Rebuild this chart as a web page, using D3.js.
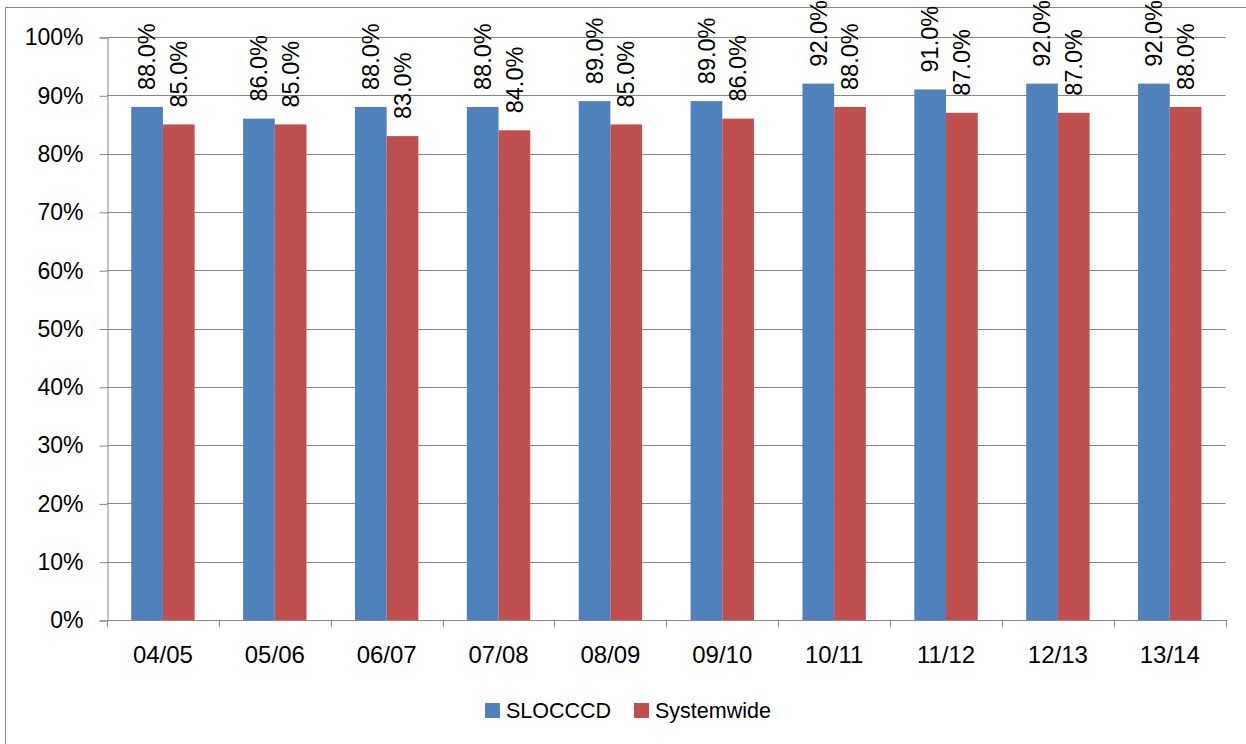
<!DOCTYPE html>
<html>
<head>
<meta charset="utf-8">
<script src="https://cdn.jsdelivr.net/npm/d3@7/dist/d3.min.js"></script>
<style>
  html, body { margin: 0; padding: 0; background: #fff; }
  svg { display: block; font-family: "Liberation Sans", Arial, sans-serif; }
</style>
</head>
<body>
<svg id="chart" width="1246" height="744"></svg>
<script>
const categories = ["04/05","05/06","06/07","07/08","08/09","09/10","10/11","11/12","12/13","13/14"];
const seriesNames = ["SLOCCCD","Systemwide"];
const slocccd = [88,86,88,88,89,89,92,91,92,92];
const systemwide = [85,85,83,84,85,86,88,87,87,88];
const yTicks = [0,10,20,30,40,50,60,70,80,90,100];
const colors = ["#4F81BD","#C0504D"];

const svg = d3.select("#chart");
const plotLeft = 107, plotRight = 1225.7, plotTop = 37, plotBottom = 620;

// outer border
svg.append("rect").attr("x",5.5).attr("y",7.5).attr("width",1260).attr("height",760)
  .attr("fill","none").attr("stroke","#868686").attr("stroke-width",1);

const x = d3.scaleBand().domain(categories).range([plotLeft, plotRight]).padding(0);
const y = d3.scaleLinear().domain([0,100]).range([plotBottom, plotTop]);
const barW = 31.7;
const sub = d3.scaleBand().domain(seriesNames).range([0, barW*2]);
const offset = (x.bandwidth() - barW*2)/2;

// gridlines
svg.append("g").selectAll("line").data(yTicks).join("line")
  .attr("x1", plotLeft).attr("x2", plotRight)
  .attr("y1", d => Math.round(y(d))+0.5).attr("y2", d => Math.round(y(d))+0.5)
  .attr("stroke","#868686").attr("stroke-width",1);

// y axis
const yAxis = d3.axisLeft(y).tickValues(yTicks).tickFormat(d => d + "%").tickSize(8).tickPadding(16);
const gy = svg.append("g").attr("transform",`translate(${plotLeft+0.5},0.5)`).call(yAxis);
gy.select(".domain").attr("stroke","#868686");
gy.selectAll(".tick line").attr("stroke","#868686");
gy.selectAll(".tick text").attr("font-size","23px").attr("fill","#000")
  .attr("font-family","'Liberation Sans', Arial, sans-serif");

// x axis
const xAxis = d3.axisBottom(x).tickSize(0).tickPadding(25);
const gx = svg.append("g").attr("transform",`translate(0,${plotBottom+0.5})`).call(xAxis);
gx.select(".domain").attr("stroke","#868686").attr("d", `M${plotLeft+0.5},0H${plotRight}`);
gx.selectAll(".tick text").attr("font-size","24px").attr("fill","#000")
  .attr("font-family","'Liberation Sans', Arial, sans-serif");
// category separators
const bounds = categories.map(c => x(c)).concat([x(categories[categories.length-1]) + x.bandwidth()]);
svg.append("g").selectAll("line").data(bounds).join("line")
  .attr("x1", d => Math.round(d)+0.5).attr("x2", d => Math.round(d)+0.5)
  .attr("y1", plotBottom).attr("y2", plotBottom+7)
  .attr("stroke","#868686");

const data = categories.map((c,i) => ({cat:c, vals:[
  {name:seriesNames[0], v:slocccd[i], color:colors[0]},
  {name:seriesNames[1], v:systemwide[i], color:colors[1]}
]}));

const groups = svg.append("g").selectAll("g").data(data).join("g")
  .attr("transform", d => `translate(${x(d.cat)+offset},0)`);

groups.selectAll("rect").data(d => d.vals).join("rect")
  .attr("x", d => sub(d.name)).attr("width", sub.bandwidth())
  .attr("y", d => y(d.v)).attr("height", d => y(0) - y(d.v))
  .attr("fill", d => d.color);

groups.selectAll("text").data(d => d.vals).join("text")
  .attr("transform", d => `translate(${sub(d.name) + sub.bandwidth()/2},${y(d.v) - 17}) rotate(-90)`)
  .attr("dy","0.35em")
  .attr("font-size","23.5px")
  .attr("fill","#000")
  .text(d => d.v.toFixed(1) + "%");

// legend
const legend = svg.append("g");
const legendPos = [485, 634];
seriesNames.forEach((n,i) => {
  legend.append("rect").attr("x", legendPos[i]).attr("y", 703).attr("width",15).attr("height",15).attr("fill",colors[i]);
  legend.append("text").attr("x", legendPos[i] + 21).attr("y", 718).attr("font-size","21.5px").attr("fill","#000").text(n);
});
</script>
</body>
</html>
